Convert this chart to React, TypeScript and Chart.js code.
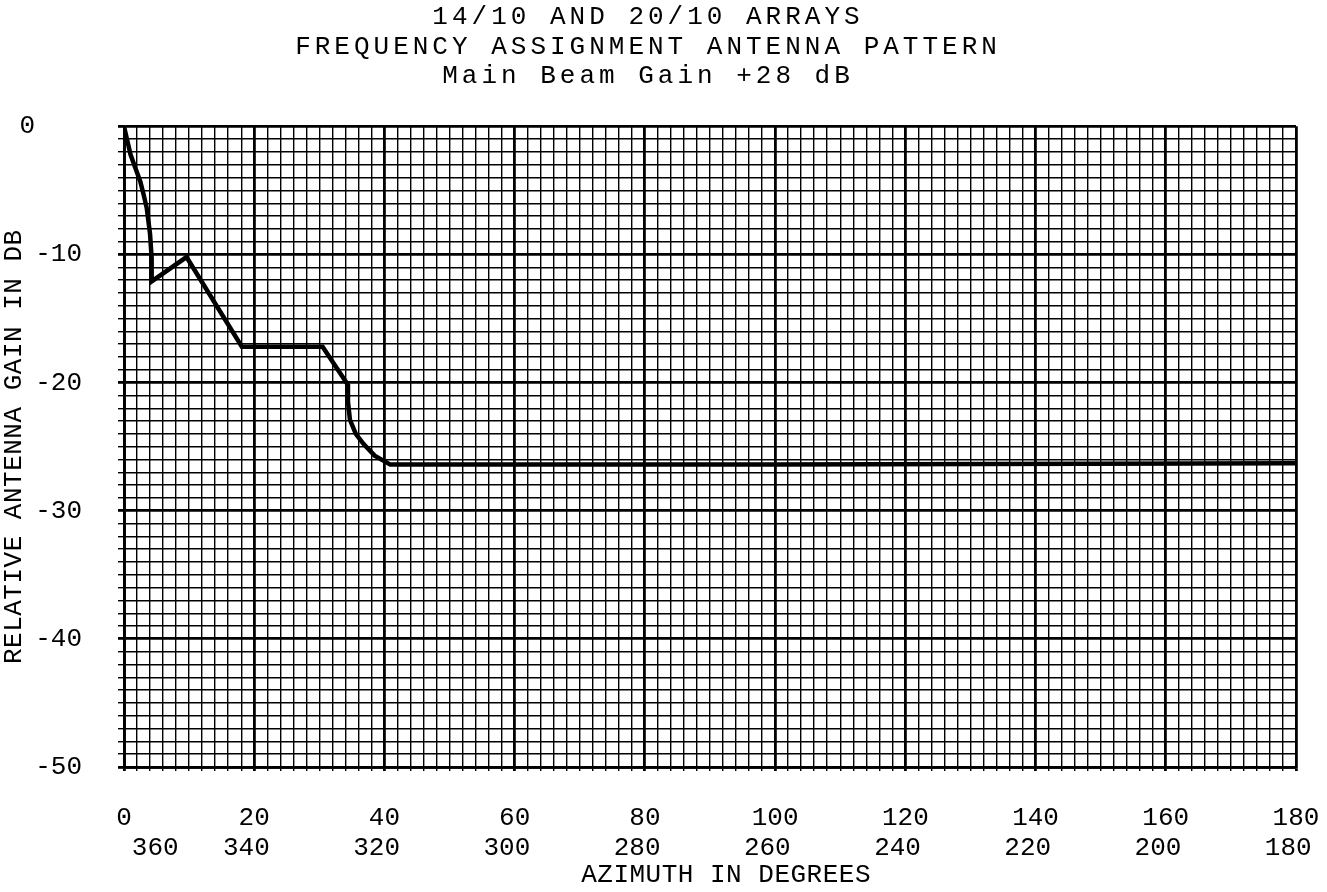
import React, { useEffect, useRef } from 'react';
import { Chart, registerables } from 'chart.js';

Chart.register(...registerables);

// ---- data ----
const azimuth = [0, 1.0, 2.0, 2.5, 3.0, 3.5, 4.0, 4.25, 4.25, 9.6, 18.1, 30.5, 34.3, 34.4, 34.7, 35.6, 36.8, 38.5, 40.9, 100, 180];
const gain = [0, -2.2, -3.6, -4.3, -5.3, -6.4, -8.4, -10.3, -12.1, -10.2, -17.2, -17.2, -20.1, -21.5, -22.9, -24.0, -24.8, -25.7, -26.4, -26.4, -26.3];

const xTickTop = ['0', '20', '40', '60', '80', '100', '120', '140', '160', '180'];
const xTickBottom = ['360', '340', '320', '300', '280', '260', '240', '220', '200', '180'];
const yTickLabels = ['0', '-10', '-20', '-30', '-40', '-50'];

const titleLines = ['14/10 AND 20/10 ARRAYS', 'FREQUENCY ASSIGNMENT ANTENNA PATTERN', 'Main Beam Gain +28 dB'];
const xAxisTitle = 'AZIMUTH IN DEGREES';
const yAxisTitle = 'RELATIVE ANTENNA GAIN IN DB';

const FONT = 'Liberation Mono';
const FS = 26;

function withSpacing(obj: any, key: string, chart: any, spacing: string) {
  if (!obj || typeof obj[key] !== 'function' || obj[key].__spaced) return;
  const orig = obj[key].bind(obj);
  const wrapped: any = (...args: any[]) => {
    const c = chart.ctx as any;
    c.save();
    c.letterSpacing = spacing;
    orig(...args);
    c.restore();
  };
  wrapped.__spaced = true;
  obj[key] = wrapped;
}

export default function App() {
  const ref = useRef<HTMLCanvasElement>(null);

  useEffect(() => {
    if (!ref.current) return;
    const points = azimuth.map((x, i) => ({ x, y: gain[i] }));
    const chart: any = new Chart(ref.current, {
      type: 'line',
      data: {
        datasets: [
          {
            data: points,
            borderColor: '#000',
            borderWidth: 4.5,
            pointRadius: 0,
            tension: 0,
            fill: false,
          },
        ],
      },
      options: {
        animation: false,
        responsive: false,
        layout: { padding: { left: 0, right: 31, top: 0, bottom: 0 } },
        plugins: {
          legend: { display: false },
          tooltip: { enabled: false },
          title: {
            display: true,
            text: titleLines,
            color: '#000',
            font: { family: FONT, size: FS, weight: 'normal', lineHeight: 1.12 },
            padding: { top: 3, bottom: 36 },
          },
        },
        scales: {
          x: {
            type: 'linear',
            min: 0,
            max: 180,
            afterFit: (s: any) => {
              s.height = 125;
              s.paddingLeft = 0;
              s.paddingRight = 0;
            },
            ticks: {
              stepSize: 2,
              autoSkip: false,
              maxRotation: 0,
              color: '#000',
              padding: 33,
              font: { family: FONT, size: FS, lineHeight: 1.12 },
              callback: (v: any) => {
                const n = Math.round(Number(v));
                if (n % 20 !== 0) return '';
                const i = n / 20;
                const bottom = i === 0 ? '    ' + xTickBottom[i] : xTickBottom[i] + ' ';
                return [xTickTop[i], bottom];
              },
            },
            grid: {
              color: '#000',
              lineWidth: (c: any) => (Math.round(c.tick?.value ?? 1) % 20 === 0 ? 2.8 : 1.4),
              tickLength: 4,
              drawTicks: true,
            },
            border: { display: true, color: '#000', width: 2.8 },
            title: {
              display: true,
              text: '  ' + xAxisTitle,
              color: '#000',
              font: { family: FONT, size: FS, lineHeight: 1.12 },
              padding: { top: 0, bottom: 2 },
            },
          },
          y: {
            type: 'linear',
            min: -50,
            max: 0,
            afterFit: (s: any) => {
              s.width = 124;
            },
            ticks: {
              stepSize: 1,
              autoSkip: false,
              color: '#000',
              padding: 36,
              font: { family: FONT, size: FS, lineHeight: 1.12 },
              callback: (v: any) => {
                const n = Math.round(Number(v));
                if (n % 10 !== 0) return '';
                const lbl = yTickLabels[-n / 10];
                return n === 0 ? lbl + '   ' : lbl;
              },
            },
            grid: {
              color: '#000',
              lineWidth: (c: any) => (Math.round(c.tick?.value ?? 1) % 10 === 0 ? 2.8 : 1.4),
              tickLength: 6,
              drawTicks: true,
            },
            border: { display: true, color: '#000', width: 2.8 },
            title: {
              display: true,
              text: yAxisTitle,
              color: '#000',
              font: { family: FONT, size: FS, lineHeight: 1.12 },
              padding: { top: 0, bottom: 0 },
            },
          },
        },
      },
    });

    withSpacing(chart.titleBlock, 'draw', chart, '4px');
    withSpacing(chart.scales?.x, 'drawTitle', chart, '0.5px');
    withSpacing(chart.scales?.y, 'drawTitle', chart, '0.5px');
    chart.draw();

    return () => chart.destroy();
  }, []);

  return (
    <div style={{ position: 'fixed', left: 0, top: 0, width: 1327, height: 892, background: '#fff' }}>
      <canvas ref={ref} width={1327} height={892} style={{ display: 'block', width: 1327, height: 892 }} />
    </div>
  );
}
